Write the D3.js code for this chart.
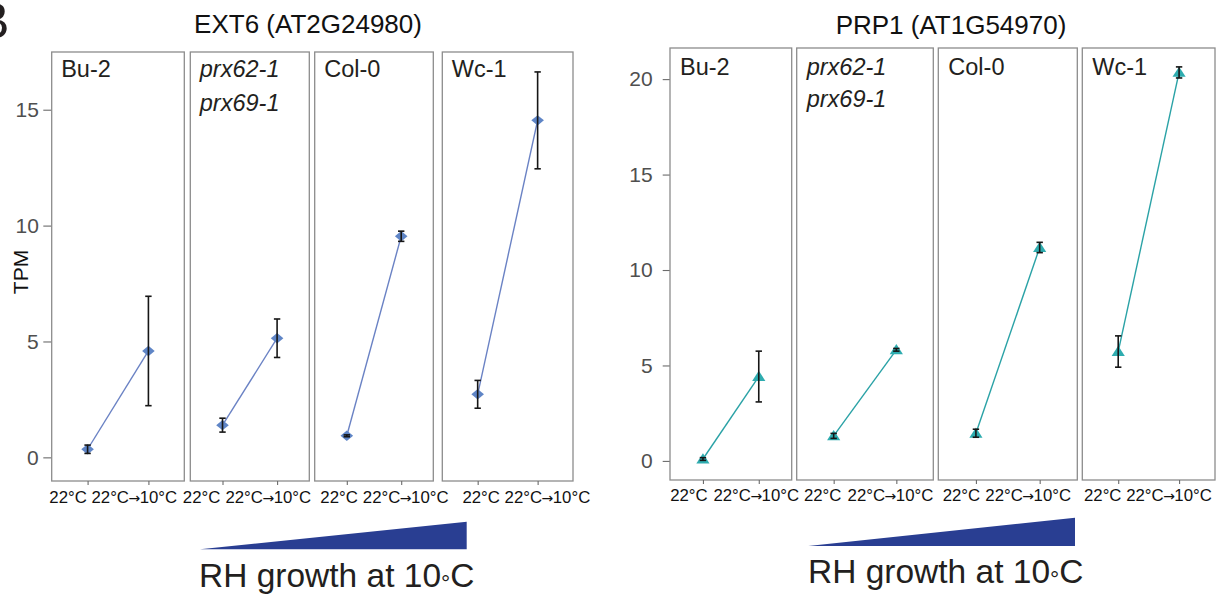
<!DOCTYPE html>
<html>
<head>
<meta charset="utf-8">
<script src="https://cdn.jsdelivr.net/npm/d3@7"></script>
<style>
  html, body { margin: 0; padding: 0; background: #fff; }
  svg { display: block; }
  text { font-family: "Liberation Sans", Arial, sans-serif; }
</style>
</head>
<body>
<script>
// Sampling conditions (x categories inside each genotype panel)
const conditions = ["22°C", "22°C→10°C"];

// Genotype panels, left to right; prx double mutant label is set on two italic lines
const genotypeLines = [["Bu-2"], ["prx62-1", "prx69-1"], ["Col-0"], ["Wc-1"]];
const genotypeItalic = [false, true, false, false];

// EXT6 (AT2G24980) expression, TPM: mean and error per genotype
const ext6Mean22 = [0.35, 1.39, 0.93, 2.72];
const ext6Err22 = [0.18, 0.30, 0.04, 0.60];
const ext6Mean10 = [4.59, 5.14, 9.54, 14.54];
const ext6Err10 = [2.36, 0.83, 0.22, 2.09];

// PRP1 (AT1G54970) expression, TPM: mean and error per genotype
const prp1Mean22 = [0.10, 1.31, 1.45, 5.73];
const prp1Err22 = [0.07, 0.13, 0.21, 0.82];
const prp1Mean10 = [4.42, 5.82, 11.18, 20.35];
const prp1Err10 = [1.33, 0.07, 0.27, 0.29];

// Y axis tick values
const ext6Ticks = [0, 5, 10, 15];
const prp1Ticks = [0, 5, 10, 15, 20];

const W = 1220, H = 594;
const svg = d3.select("body").append("svg")
  .attr("width", W).attr("height", H)
  .attr("viewBox", `0 0 ${W} ${H}`);
svg.append("rect").attr("width", W).attr("height", H).attr("fill", "#fff");

// Figure panel letter, partly running off the left edge
svg.append("text")
  .attr("x", -24).attr("y", 38)
  .attr("font-family", "Lato, 'Open Sans', sans-serif")
  .attr("font-size", 50).attr("fill", "#231f20")
  .text("B");

const diamondPath = "M0,-5.2 L6.3,0 L0,5.2 L-6.3,0Z";
const trianglePath = "M0,-5.8 L6.6,4.4 L-6.6,4.4Z";

function drawChart(cfg) {
  const g = svg.append("g");
  const y = d3.scaleLinear().domain(cfg.yDomain).range([cfg.bottom, cfg.top]);

  // title
  g.append("text")
    .attr("x", cfg.titleX).attr("y", cfg.titleY)
    .attr("text-anchor", "middle")
    .attr("font-size", 26).attr("fill", "#111")
    .text(cfg.title);

  // y axis on the left of the first panel
  const yAxis = d3.axisLeft(y).tickValues(cfg.ticks)
    .tickSize(cfg.yTickSize).tickPadding(cfg.yTickPad);
  const ya = g.append("g")
    .attr("transform", `translate(${cfg.panels[0][0]},0)`)
    .call(yAxis);
  ya.select(".domain").remove();
  ya.selectAll(".tick line").attr("stroke", "#6b6b6b").attr("stroke-width", 1.1);
  ya.selectAll(".tick text")
    .attr("font-family", "'Liberation Sans', Arial, sans-serif")
    .attr("font-size", 21).attr("fill", "#4f4f4f");

  if (cfg.yTitle) {
    g.append("text")
      .attr("transform", `translate(${cfg.yTitleX},${cfg.yTitleY}) rotate(-90)`)
      .attr("text-anchor", "middle")
      .attr("dominant-baseline", "central")
      .attr("font-size", 21).attr("fill", "#111")
      .text(cfg.yTitle);
  }

  cfg.panels.forEach(([x0, x1], i) => {
    const x = d3.scalePoint().domain(conditions).range([x0, x1]).padding(0.59);
    const pg = g.append("g");

    // panel border
    pg.append("rect")
      .attr("x", x0).attr("y", cfg.top)
      .attr("width", x1 - x0).attr("height", cfg.bottom - cfg.top)
      .attr("fill", "none").attr("stroke", "#8c8c8c").attr("stroke-width", 1.3);

    // x axis ticks and labels; the arrow is set in a font with a long arrow glyph
    const xa = pg.append("g")
      .attr("transform", `translate(0,${cfg.bottom})`)
      .call(d3.axisBottom(x).tickSize(4).tickPadding(0));
    xa.select(".domain").remove();
    xa.selectAll(".tick line").attr("stroke", "#6b6b6b").attr("stroke-width", 1.1);
    xa.selectAll(".tick text")
      .attr("font-family", "'Liberation Sans', Arial, sans-serif")
      .attr("font-size", 16.8).attr("fill", "#111")
      .attr("dy", null)
      .attr("y", cfg.xLabelBase)
      .attr("x", (d, j) => cfg.labelNudge[i][j])
      .each(function (d) {
        const t = d3.select(this);
        const parts = d.split("→");
        t.text(null);
        parts.forEach((p, k) => {
          if (k > 0) {
            t.append("tspan")
              .attr("font-family", "'DejaVu Sans', sans-serif")
              .attr("font-size", 14)
              .attr("dx", -0.5)
              .text("→");
          }
          t.append("tspan").attr("dx", k > 0 ? -0.5 : null).text(p);
        });
      });

    // genotype strip label
    const st = pg.append("text")
      .attr("x", x0 + cfg.stripDx)
      .attr("font-size", 23.5)
      .attr("fill", "#231f20")
      .attr("font-style", genotypeItalic[i] ? "italic" : null)
      .attr("font-family", genotypeItalic[i] ? "'Open Sans', sans-serif" : null);
    genotypeLines[i].forEach((line, k) => {
      st.append("tspan")
        .attr("x", x0 + cfg.stripDx)
        .attr("y", cfg.top + cfg.stripBase + k * cfg.stripLine)
        .text(line);
    });

    const pts = conditions.map((c, j) => ({
      c,
      m: j === 0 ? cfg.mean22[i] : cfg.mean10[i],
      e: j === 0 ? cfg.err22[i] : cfg.err10[i]
    }));

    // connecting line
    pg.append("path")
      .datum(pts)
      .attr("fill", "none")
      .attr("stroke", cfg.lineColor).attr("stroke-width", 1.4)
      .attr("d", d3.line().x(d => x(d.c)).y(d => y(d.m)));

    // markers
    pg.selectAll(".mk").data(pts).join("path")
      .attr("class", "mk")
      .attr("transform", d => `translate(${x(d.c)},${y(d.m)})`)
      .attr("d", cfg.marker)
      .attr("fill", cfg.markerColor);

    // error bars
    const eb = pg.selectAll(".eb").data(pts).join("g").attr("class", "eb")
      .attr("stroke", "#161616").attr("stroke-width", 1.6);
    eb.append("line")
      .attr("x1", d => x(d.c)).attr("x2", d => x(d.c))
      .attr("y1", d => y(d.m - d.e)).attr("y2", d => y(d.m + d.e));
    eb.append("line")
      .attr("x1", d => x(d.c) - 3.2).attr("x2", d => x(d.c) + 3.2)
      .attr("y1", d => y(d.m + d.e)).attr("y2", d => y(d.m + d.e));
    eb.append("line")
      .attr("x1", d => x(d.c) - 3.2).attr("x2", d => x(d.c) + 3.2)
      .attr("y1", d => y(d.m - d.e)).attr("y2", d => y(d.m - d.e));
  });

  // growth gradient wedge and caption
  const w = cfg.wedge;
  g.append("path")
    .attr("d", d3.line()([[w.x0, w.yb], [w.x1, w.yt], [w.x1, w.yb]]) + "Z")
    .attr("fill", "#293e92");
  const cap = g.append("text")
    .attr("x", cfg.capX).attr("y", cfg.capY)
    .attr("font-family", "Lato, 'Open Sans', sans-serif")
    .attr("font-size", 33.5).attr("fill", "#231f20");
  cap.append("tspan").text("RH growth at 10");
  cap.append("tspan").attr("dy", 4).attr("font-size", 23).text("°");
  cap.append("tspan").attr("dy", -4).text("C");
}

drawChart({
  title: "EXT6 (AT2G24980)", titleX: 308, titleY: 33,
  yTitle: "TPM", yTitleX: 20, yTitleY: 272,
  panels: [[51.7, 184.3], [190.3, 309.3], [314.7, 433.3], [442.3, 573]],
  top: 52, bottom: 481, yDomain: [-1.02, 17.49],
  ticks: ext6Ticks, yTickSize: 8.4, yTickPad: 4.5,
  xLabelBase: 21.7,
  labelNudge: [[-20, -14.6], [-21.4, -9.3], [-8.2, 4], [3, 9.3]],
  stripDx: 9.5, stripBase: 25, stripLine: 33.5,
  mean22: ext6Mean22, err22: ext6Err22, mean10: ext6Mean10, err10: ext6Err10,
  marker: diamondPath, markerColor: "#5f85c6", lineColor: "#6a82c4",
  wedge: { x0: 200, x1: 466.7, yt: 521.7, yb: 549.3 },
  capX: 199, capY: 586.5
});

drawChart({
  title: "PRP1 (AT1G54970)", titleX: 951, titleY: 34,
  yTitle: null,
  panels: [[670, 791.7], [796.7, 933.3], [938.3, 1077.3], [1082.3, 1215]],
  top: 48, bottom: 480, yDomain: [-1.0, 21.63],
  ticks: prp1Ticks, yTickSize: 7.3, yTickPad: 10,
  xLabelBase: 20.7,
  labelNudge: [[-14.5, -3], [-11.5, -6.4], [-15, -12], [-16, -10.6]],
  stripDx: 10, stripBase: 27, stripLine: 31.6,
  mean22: prp1Mean22, err22: prp1Err22, mean10: prp1Mean10, err10: prp1Err10,
  marker: trianglePath, markerColor: "#2eacaf", lineColor: "#2aa2a6",
  wedge: { x0: 808.3, x1: 1075, yt: 517.7, yb: 546 },
  capX: 808, capY: 583.3
});
</script>
</body>
</html>
